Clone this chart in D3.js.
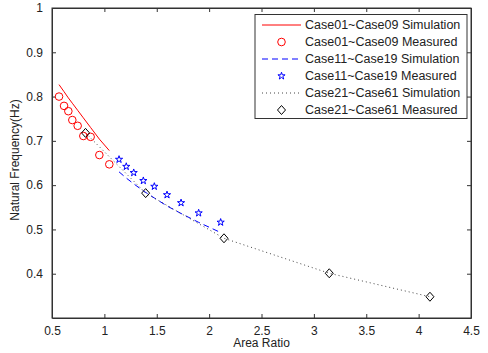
<!DOCTYPE html>
<html>
<head>
<meta charset="utf-8">
<script src="https://cdn.jsdelivr.net/npm/d3@7"></script>
<style>
  html, body { margin: 0; padding: 0; background: #fff; }
  svg text { font-family: "Liberation Sans", Arial, sans-serif; fill: #222; }
</style>
</head>
<body>
<svg id="chart" width="488" height="353"></svg>
<script>
// Case01~Case09
const redX      = [0.567, 0.615, 0.656, 0.694, 0.745, 0.799, 0.869, 0.952, 1.047];
const redSim    = [0.827, 0.811, 0.797, 0.785, 0.769, 0.752, 0.730, 0.704, 0.678];
const redMeas   = [0.800, 0.779, 0.767, 0.747, 0.734, 0.711, 0.709, 0.668, 0.647];
// Case11~Case19
const blueX     = [1.140, 1.209, 1.280, 1.372, 1.477, 1.598, 1.732, 1.900, 2.110];
const blueSim   = [0.630, 0.616, 0.603, 0.587, 0.571, 0.553, 0.536, 0.516, 0.493];
const blueMeas  = [0.658, 0.642, 0.628, 0.610, 0.597, 0.578, 0.560, 0.537, 0.516];
// Case21~Case61
const blackX    = [0.820, 1.394, 2.142, 3.147, 4.108];
const blackSim  = [0.718, 0.582, 0.480, 0.401, 0.348];
const blackMeas = [0.718, 0.582, 0.480, 0.401, 0.348];

const xTicks = [0.5, 1, 1.5, 2, 2.5, 3, 3.5, 4, 4.5];
const yTicks = [0.4, 0.5, 0.6, 0.7, 0.8, 0.9, 1];
const legendLabels = [
  "Case01~Case09 Simulation", "Case01~Case09 Measured",
  "Case11~Case19 Simulation", "Case11~Case19 Measured",
  "Case21~Case61 Simulation", "Case21~Case61 Measured"
];

const svg = d3.select("#chart");
const pLeft = 52, pRight = 471, pTop = 8, pBottom = 318;
const x = d3.scaleLinear().domain([0.5, 4.5]).range([pLeft, pRight]);
const y = d3.scaleLinear().domain([0.3, 1]).range([pBottom, pTop]);

const axisColor = "#333";
const fontSize = 12;

// axes with inward ticks on all four sides
const xb = svg.append("g").attr("transform", `translate(0,${pBottom})`)
  .call(d3.axisBottom(x).tickValues(xTicks).tickSizeInner(-4).tickSizeOuter(0).tickPadding(8)
    .tickFormat(d3.format("")));
const xt = svg.append("g").attr("transform", `translate(0,${pTop})`)
  .call(d3.axisTop(x).tickValues(xTicks).tickSizeInner(-4).tickSizeOuter(0).tickFormat(""));
const yl = svg.append("g").attr("transform", `translate(${pLeft},0)`)
  .call(d3.axisLeft(y).tickValues(yTicks).tickSizeInner(-4).tickSizeOuter(0).tickPadding(9)
    .tickFormat(d3.format("")));
const yr = svg.append("g").attr("transform", `translate(${pRight},0)`)
  .call(d3.axisRight(y).tickValues(yTicks).tickSizeInner(-4).tickSizeOuter(0).tickFormat(""));
[xb, xt, yl, yr].forEach(g => {
  g.select(".domain").attr("stroke", axisColor);
  g.selectAll(".tick line").attr("stroke", axisColor);
  g.selectAll(".tick text").attr("font-size", fontSize)
    .attr("font-family", "Liberation Sans, Arial, sans-serif").attr("fill", "#222");
});

// axis titles
svg.append("text").attr("x", (pLeft + pRight) / 2).attr("y", 347)
  .attr("text-anchor", "middle").attr("font-size", fontSize).text("Area Ratio");
svg.append("text").attr("transform", `translate(19,160) rotate(-90)`)
  .attr("text-anchor", "middle").attr("font-size", fontSize).text("Natural Frequency(Hz)");

const line = d3.line().x(d => x(d[0])).y(d => y(d[1]));
const plot = svg.append("g");

// simulation curves
plot.append("path").datum(d3.zip(redX, redSim)).attr("d", line)
  .attr("fill", "none").attr("stroke", "#ff0000").attr("stroke-width", 1);
plot.append("path").datum(d3.zip(blueX, blueSim)).attr("d", line)
  .attr("fill", "none").attr("stroke", "#0000ff").attr("stroke-width", 1)
  .attr("stroke-dasharray", "6,4");
plot.append("path").datum(d3.zip(blackX, blackSim)).attr("d", line)
  .attr("fill", "none").attr("stroke", "#444").attr("stroke-width", 1)
  .attr("stroke-dasharray", "1,3");

// marker shapes
const star = d3.symbol().type(d3.symbolStar).size(16);
const diamond = "M0,-4.5L4,0L0,4.5L-4,0Z";

function drawCircle(g, cx, cy) {
  g.append("circle").attr("cx", cx).attr("cy", cy).attr("r", 3.8)
    .attr("fill", "none").attr("stroke", "#ff0000").attr("stroke-width", 1);
}
function drawStar(g, cx, cy) {
  g.append("path").attr("d", star()).attr("transform", `translate(${cx},${cy})`)
    .attr("fill", "none").attr("stroke", "#0000ff").attr("stroke-width", 1);
}
function drawDiamond(g, cx, cy) {
  g.append("path").attr("d", diamond).attr("transform", `translate(${cx},${cy})`)
    .attr("fill", "none").attr("stroke", "#000").attr("stroke-width", 1);
}

redX.forEach((v, i) => drawCircle(plot, x(v), y(redMeas[i])));
blueX.forEach((v, i) => drawStar(plot, x(v), y(blueMeas[i])));
blackX.forEach((v, i) => drawDiamond(plot, x(v), y(blackMeas[i])));

// frame drawn on top so the box edges stay crisp
svg.append("rect").attr("x", pLeft).attr("y", pTop)
  .attr("width", pRight - pLeft).attr("height", pBottom - pTop)
  .attr("fill", "none").attr("stroke", axisColor);

// legend
const lg = svg.append("g");
const lgLeft = 255, lgTop = 14.5, lgRight = 467, lgBottom = 118.5;
lg.append("rect").attr("x", lgLeft).attr("y", lgTop)
  .attr("width", lgRight - lgLeft).attr("height", lgBottom - lgTop)
  .attr("fill", "#fff").attr("stroke", axisColor);
const rowY = i => 25 + i * 17;
const sx0 = 262, sx1 = 301, sxm = (sx0 + sx1) / 2;
legendLabels.forEach((t, i) => {
  lg.append("text").attr("x", 305).attr("y", rowY(i)).attr("dy", "0.35em")
    .attr("font-size", 12.5).text(t);
});
lg.append("line").attr("x1", sx0).attr("x2", sx1).attr("y1", rowY(0)).attr("y2", rowY(0))
  .attr("stroke", "#ff0000");
drawCircle(lg, sxm, rowY(1));
lg.append("line").attr("x1", sx0).attr("x2", sx1).attr("y1", rowY(2)).attr("y2", rowY(2))
  .attr("stroke", "#0000ff").attr("stroke-dasharray", "6,4");
drawStar(lg, sxm, rowY(3));
lg.append("line").attr("x1", sx0).attr("x2", sx1).attr("y1", rowY(4)).attr("y2", rowY(4))
  .attr("stroke", "#444").attr("stroke-dasharray", "1,3");
drawDiamond(lg, sxm, rowY(5));
</script>
</body>
</html>
